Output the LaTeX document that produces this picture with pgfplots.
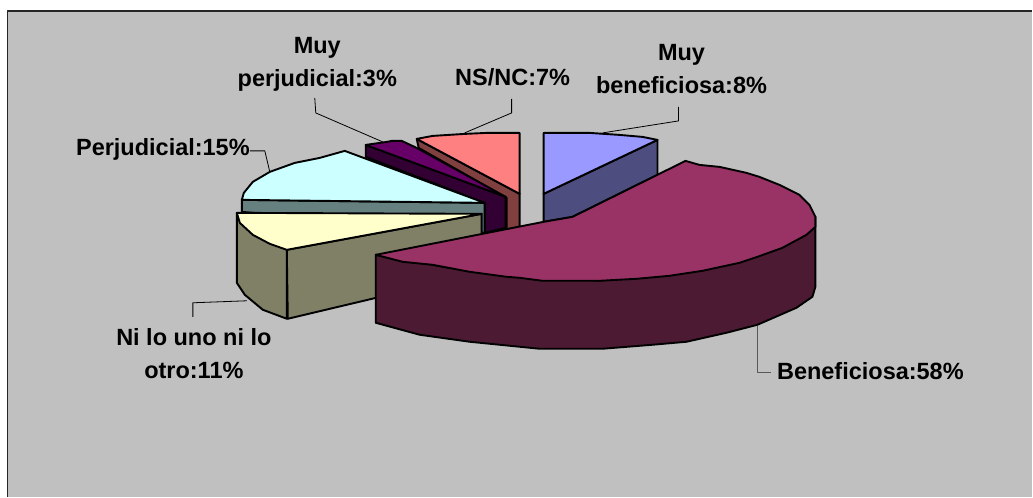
\documentclass[border=0pt]{standalone}
\usepackage{pgfplots}
\pgfplotsset{compat=1.18}
\usepackage{fontspec}
\setmainfont{Liberation Sans}

\definecolor{fondo}{HTML}{C0C0C0}
\definecolor{azul}{HTML}{9999FF}
\definecolor{azulosc}{HTML}{4D4D80}
\definecolor{granate}{HTML}{993366}
\definecolor{granateosc}{HTML}{4D1A33}
\definecolor{amarillo}{HTML}{FFFFCC}
\definecolor{oliva}{HTML}{808066}
\definecolor{celeste}{HTML}{CCFFFF}
\definecolor{celesteosc}{HTML}{668080}
\definecolor{morado}{HTML}{660066}
\definecolor{moradoosc}{HTML}{330033}
\definecolor{rosa}{HTML}{FF8080}
\definecolor{rosaosc}{HTML}{804040}

\begin{document}
\begin{tikzpicture}
\begin{axis}[
    scale only axis,
    width=1033pt,
    height=497pt,
    xmin=0, xmax=1033,
    ymin=0, ymax=497,
    y dir=reverse,
    axis lines=none,
    clip=false,
    every axis plot/.style={draw=black, line width=1.9pt, line join=round},
    nodes={font=\bfseries\fontsize{23.5}{33}\selectfont, align=center, text=black, inner sep=0pt},
]
% pagina y marco (sin borde a la derecha ni abajo)
\addplot[fill=white, draw=none] coordinates {(0,0) (1033,0) (1033,497) (0,497)} --cycle;
\addplot[fill=fondo, draw=none] coordinates {(7.5,11) (1033,11) (1033,497) (7.5,497)} --cycle;
\addplot[line width=1.5pt, draw=black!85] coordinates {(7.5,497) (7.5,11) (1033,11)};

% NS/NC
\addplot[fill=rosaosc] coordinates {(417,139) (419,148) (507,198) (507,230) (520,227) (520,194)} --cycle;
\addplot[fill=rosa] coordinates {(520,133) (520,194) (417,139) (433,136) (465,134) (487,133)} --cycle;
% Muy beneficiosa
\addplot[fill=azulosc] coordinates {(544,194) (658,140) (658,175) (573,217) (544,222)} --cycle;
\addplot[fill=azul] coordinates {(544,133) (590,133) (620,135) (643,137) (658,140) (544,194)} --cycle;
% Muy perjudicial
\addplot[fill=moradoosc] coordinates {(366,145) (366,157) (485,203) (485,233) (506,228) (506,197)} --cycle;
\addplot[fill=morado] coordinates {(366,145) (387,142) (392,141) (402,141) (417,148) (506,197)} --cycle;
% Perjudicial
\addplot[fill=celesteosc] coordinates {(242,200) (485,203) (485,233) (242,212)} --cycle;
\addplot[fill=celeste] coordinates {(242,200) (244,193) (253,182) (270,172) (295,163) (320,158) (345,151) (485,203)} --cycle;
% Ni lo uno ni lo otro
\addplot[fill=oliva] coordinates {(287,250) (288,319) (482,273) (482,214)} --cycle;
\addplot[fill=oliva] coordinates {(237,213) (237,283) (245,295) (263,310) (287,319) (287,250)} --cycle;
\addplot[fill=amarillo] coordinates {(237,213) (482,214) (287,250) (270,244) (253,235) (240,223)} --cycle;
% Beneficiosa
\addplot[fill=granateosc] coordinates {(376,255) (376,323) (420,335) (470,342) (520,347) (540,349) (603,349) (653,345) (687,342) (727,333) (758,325) (797,308) (813,297) (816,287) (816,217) (600,281) (450,268)} --cycle;
\addplot[fill=granate] coordinates {(376,255) (544,222) (573,217) (686,161) (700,165) (720,167) (747,173) (760,177) (780,185) (800,195) (810,205) (816,217) (816,227) (807,235) (783,248) (758,257) (740,263) (703,271) (670,276) (637,279) (600,281) (543,281) (520,278) (507,277) (470,272) (433,265) (403,262)} --cycle;

% lineas guia
\addplot[line width=0.8pt] coordinates {(315,98) (316,113) (383,142)};
\addplot[line width=0.8pt] coordinates {(250,151) (265,151) (270,172)};
\addplot[line width=0.8pt] coordinates {(512,99) (512,113) (465,133)};
\addplot[line width=0.8pt] coordinates {(679,107) (679,121) (603,133)};
\addplot[line width=0.8pt] coordinates {(193,317) (193,303) (247,301)};
\addplot[draw=black!65, line width=1.1pt] coordinates {(758,326) (758,373) (772,373)};

% etiquetas
\node at (axis cs:317.5,64) {Muy\\perjudicial:3\%};
\node at (axis cs:163,150) {Perjudicial:15\%};
\node at (axis cs:513,77) {NS/NC:7\%};
\node at (axis cs:682,69) {Muy\\beneficiosa:8\%};
\node at (axis cs:194,354) {Ni lo uno ni lo\\otro:11\%};
\node at (axis cs:871,371) {Beneficiosa:58\%};
\end{axis}
\end{tikzpicture}
\end{document}
